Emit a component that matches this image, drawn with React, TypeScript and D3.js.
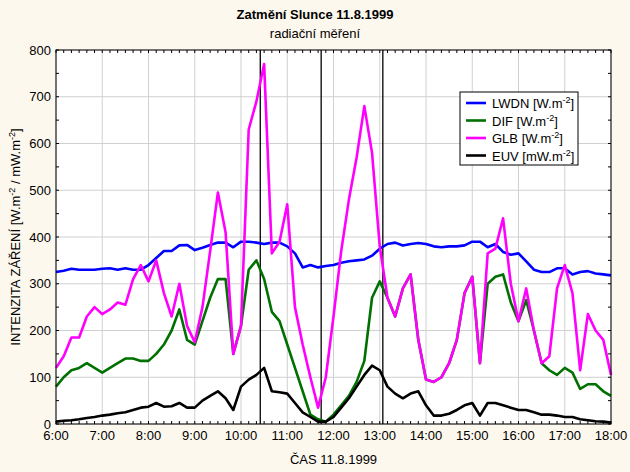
import * as React from "react";
import * as d3 from "d3";

// 10-minute samples from 6:00 to 18:00
const startHour = 6;
const stepMin = 10;
const hourTicks = [6, 7, 8, 9, 10, 11, 12, 13, 14, 15, 16, 17, 18];
const yTicks = [0, 100, 200, 300, 400, 500, 600, 700, 800];
const eclipseMarks = [10 + 25 / 60, 11 + 44 / 60, 13 + 4 / 60];

const lwdn = [325, 328, 332, 330, 330, 330, 332, 333, 330, 333, 330, 330, 340, 355, 370, 370, 382, 383, 372, 377, 383, 388, 388, 378, 390, 390, 388, 385, 388, 388, 380, 365, 335, 340, 335, 338, 340, 345, 348, 350, 352, 360, 375, 385, 388, 382, 385, 387, 385, 380, 378, 380, 380, 382, 390, 390, 378, 385, 368, 362, 365, 348, 330, 325, 325, 333, 333, 320, 325, 327, 322, 320, 318];
const dif = [80, 100, 115, 120, 130, 120, 110, 120, 130, 140, 140, 135, 135, 150, 170, 200, 245, 180, 170, 220, 270, 310, 310, 150, 210, 330, 350, 310, 240, 220, 170, 120, 70, 20, 10, 5, 20, 40, 60, 90, 135, 270, 305, 270, 230, 290, 320, 180, 95, 90, 100, 130, 180, 280, 315, 130, 300, 315, 320, 260, 220, 265, 200, 130, 115, 105, 120, 110, 75, 85, 85, 70, 60];
const glb = [120, 145, 185, 185, 230, 250, 235, 245, 260, 255, 310, 340, 305, 350, 280, 230, 300, 210, 175, 250, 370, 495, 410, 150, 210, 630, 690, 770, 365, 390, 470, 250, 170, 100, 35, 100, 230, 370, 480, 570, 680, 580, 380, 270, 230, 290, 320, 180, 95, 90, 100, 130, 180, 280, 315, 130, 365, 375, 440, 300, 220, 290, 200, 130, 145, 290, 340, 280, 115, 235, 200, 180, 105];
const euv = [5, 7, 8, 10, 13, 15, 18, 20, 23, 25, 30, 35, 37, 45, 37, 38, 45, 35, 35, 50, 60, 70, 55, 30, 80, 95, 105, 120, 70, 68, 65, 45, 25, 15, 5, 5, 15, 35, 55, 80, 105, 125, 115, 80, 65, 55, 65, 70, 40, 18, 18, 22, 30, 40, 45, 18, 45, 45, 40, 35, 30, 30, 25, 20, 20, 18, 15, 15, 10, 8, 6, 5, 3];

const series = [
  { key: "LWDN", unit: "W.m", color: "#0000ff", values: lwdn },
  { key: "DIF", unit: "W.m", color: "#007000", values: dif },
  { key: "GLB", unit: "W.m", color: "#ff00ff", values: glb },
  { key: "EUV", unit: "mW.m", color: "#000000", values: euv },
];

export default function App() {
  const W = 630, H = 472;
  const L = 56, R = 611, T = 50, B = 424;
  const x = d3.scaleLinear().domain([6, 18]).range([L, R]);
  const y = d3.scaleLinear().domain([0, 800]).range([B, T]);
  const minorX = d3.range(6, 18.001, 1 / 6);
  const minorY = d3.range(0, 801, 50);
  const font = "Arial, 'Liberation Sans', sans-serif";
  const line = d3
    .line<number>()
    .x((_, i) => x(startHour + (i * stepMin) / 60))
    .y((d) => y(d));

  return (
    <svg width={W} height={H} style={{ position: "absolute", left: 0, top: 0, fontFamily: font }}>
      <rect width={W} height={H} fill="#fdf8ee" />
      <rect x={L} y={T} width={R - L} height={B - T} fill="#fff" />
      {hourTicks.map((h) => (
        <line key={"gx" + h} x1={x(h)} x2={x(h)} y1={T} y2={B} stroke="#d0d0d0" />
      ))}
      {yTicks.map((v) => (
        <line key={"gy" + v} x1={L} x2={R} y1={y(v)} y2={y(v)} stroke="#d0d0d0" />
      ))}
      {eclipseMarks.map((h, i) => (
        <line key={"e" + i} x1={x(h)} x2={x(h)} y1={T} y2={B} stroke="#000" strokeWidth={1.3} />
      ))}
      {series.map((s) => (
        <path key={s.key} d={line(s.values) as string} fill="none" stroke={s.color} strokeWidth={2.6} strokeLinejoin="round" />
      ))}
      <rect x={L} y={T} width={R - L} height={B - T} fill="none" stroke="#000" />
      {minorX.map((h, i) => (
        <g key={"mx" + i}>
          <line x1={x(h)} x2={x(h)} y1={B} y2={B - 3} stroke="#000" />
          <line x1={x(h)} x2={x(h)} y1={T} y2={T + 3} stroke="#000" />
        </g>
      ))}
      {minorY.map((v) => (
        <g key={"my" + v}>
          <line x1={L} x2={L + 3} y1={y(v)} y2={y(v)} stroke="#000" />
          <line x1={R} x2={R - 3} y1={y(v)} y2={y(v)} stroke="#000" />
        </g>
      ))}
      {hourTicks.map((h) => (
        <text key={"tx" + h} x={x(h)} y={B + 16} fontSize={13} textAnchor="middle">
          {h}:00
        </text>
      ))}
      {yTicks.map((v) => (
        <text key={"ty" + v} x={L - 5} y={y(v) + 4.5} fontSize={13} textAnchor="end">
          {v}
        </text>
      ))}
      <text x={W / 2} y={19} fontSize={13} fontWeight="bold" textAnchor="middle">
        Zatmění Slunce 11.8.1999
      </text>
      <text x={W / 2} y={38} fontSize={13} textAnchor="middle">
        radiační měření
      </text>
      <text x={x(12)} y={464} fontSize={13} textAnchor="middle">
        ČAS 11.8.1999
      </text>
      <text transform={`translate(20,${(T + B) / 2}) rotate(-90)`} fontSize={13} textAnchor="middle">
        INTENZITA ZÁŘENÍ [W.m<tspan dy={-5} fontSize={9}>-2</tspan>
        <tspan dy={5}> / mW.m</tspan>
        <tspan dy={-5} fontSize={9}>-2</tspan>
        <tspan dy={5}>]</tspan>
      </text>
      <g transform="translate(460,92)">
        <rect width={118} height={73} fill="#fff" stroke="#000" />
        {series.map((s, i) => (
          <g key={s.key} transform={`translate(0,${11 + i * 17.5})`}>
            <line x1={6} x2={26} y1={0} y2={0} stroke={s.color} strokeWidth={2.6} />
            <text x={32} y={5} fontSize={13}>
              {s.key} [{s.unit}
              <tspan dy={-5} fontSize={9}>-2</tspan>
              <tspan dy={5}>]</tspan>
            </text>
          </g>
        ))}
      </g>
    </svg>
  );
}
